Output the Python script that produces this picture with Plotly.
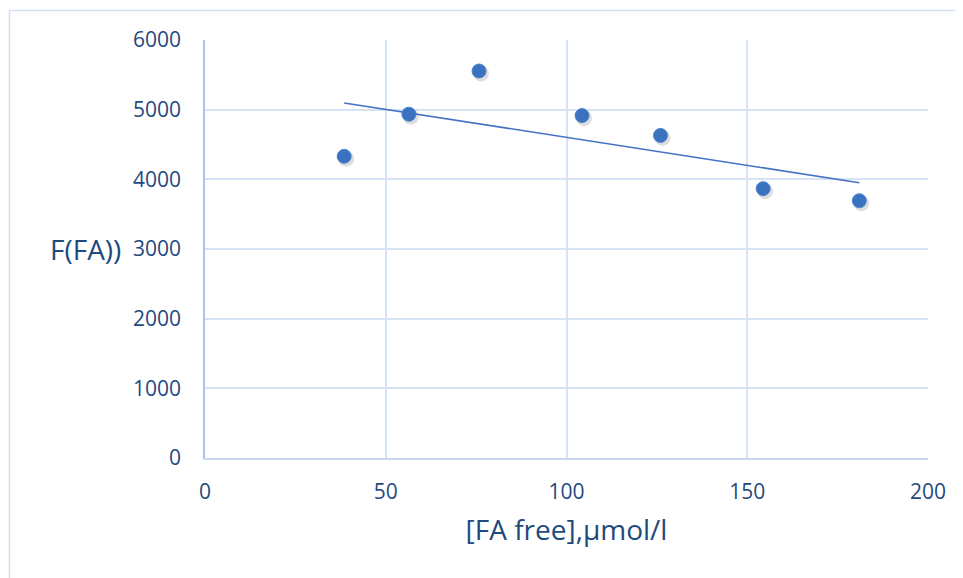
import numpy as np
import plotly.graph_objects as go

fa_free = [38.5, 56.4, 75.8, 104.3, 126.0, 154.4, 181.0]
f_fa = [4330, 4935, 5555, 4915, 4630, 3866, 3693]

x_ticks = [0, 50, 100, 150, 200]
y_ticks = [0, 1000, 2000, 3000, 4000, 5000, 6000]

slope, intercept = np.polyfit(fa_free, f_fa, 1)
trend_x = [min(fa_free), max(fa_free)]
trend_y = [slope * v + intercept for v in trend_x]

W, H = 963, 578
OFF = 8  # page body margin
L, R, T, B = 205, 35, 40, 120
pw, ph = W - L - R, H - T - B
xr = [0, 200]
yr = [0, 6000]
dx = 2.0 * (xr[1] - xr[0]) / pw
dy = 2.5 * (yr[1] - yr[0]) / ph

fig = go.Figure()
fig.add_trace(go.Scatter(
    x=[v + dx for v in fa_free], y=[v - dy for v in f_fa], mode="markers",
    marker=dict(size=16, color="rgba(0,0,0,0.13)", line=dict(width=0)),
    hoverinfo="skip", showlegend=False))
fig.add_trace(go.Scatter(
    x=trend_x, y=trend_y, mode="lines",
    line=dict(color="#4472C4", width=1.6), showlegend=False))
fig.add_trace(go.Scatter(
    x=fa_free, y=f_fa, mode="markers",
    marker=dict(size=14, color="#3A72C0", line=dict(color="#4D84CE", width=1)),
    showlegend=False))

tick_font = dict(family="Open Sans, sans-serif", size=21, color="#1F4A7D")
title_font = dict(family="Open Sans, sans-serif", size=28, color="#1F4A7D")

fig.update_layout(
    width=W, height=H,
    margin=dict(l=L - OFF, r=R + OFF, t=T - OFF, b=B + OFF),
    paper_bgcolor="white", plot_bgcolor="white",
    xaxis=dict(range=xr, tickvals=x_ticks, ticktext=[str(v) for v in x_ticks],
               showgrid=True, gridcolor="#D6E3F5", gridwidth=1.5,
               zeroline=False, showline=True, linecolor="#C9D9F0", linewidth=1.5,
               ticks="", tickfont=tick_font, ticklabelstandoff=14,
               title=dict(text="[FA free],µmol/l", font=title_font, standoff=16)),
    yaxis=dict(range=yr, tickvals=y_ticks, ticktext=[str(v) for v in y_ticks],
               showgrid=True, gridcolor="#D6E3F5", gridwidth=1.5,
               zeroline=False, showline=True, linecolor="#A9C3EA", linewidth=1.5,
               ticks="", tickfont=tick_font, ticklabelstandoff=18),
    annotations=[dict(text="F(FA))", xref="paper", yref="paper",
                      x=(85 - L) / pw, y=0.5, xanchor="center", yanchor="middle",
                      showarrow=False, font=title_font)],
    shapes=[dict(type="rect", xref="paper", yref="paper",
                 x0=(9.5 - L) / pw, x1=(W + 10 - L) / pw,
                 y0=(H - B - (H + 10)) / ph, y1=(H - B - 10.5) / ph,
                 line=dict(color="#D3E0F2", width=1.5), fillcolor="rgba(0,0,0,0)",
                 layer="below")],
)

fig.write_html("out.html")
